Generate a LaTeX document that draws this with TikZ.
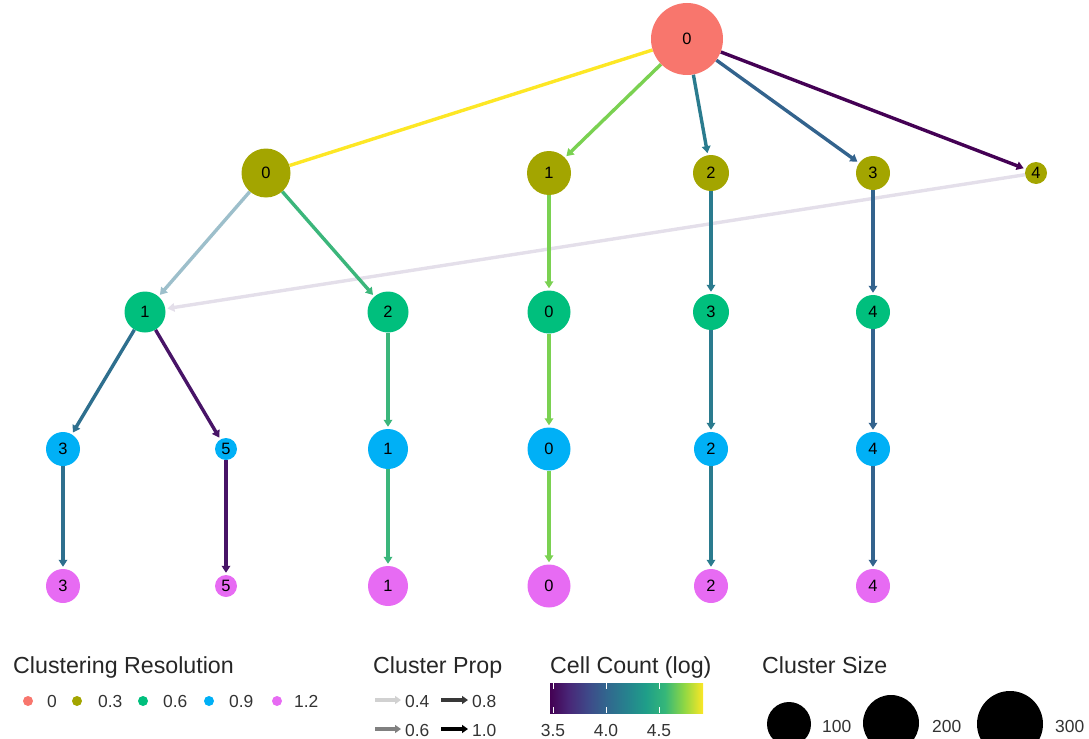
\documentclass[tikz,border=0pt]{standalone}
\usepackage{fontspec}
\setmainfont{Liberation Sans}
\usetikzlibrary{arrows.meta,backgrounds}
\definecolor{cR0}{HTML}{F8766D}
\definecolor{cR3}{HTML}{A3A500}
\definecolor{cR6}{HTML}{00BF7D}
\definecolor{cR9}{HTML}{00B0F6}
\definecolor{cR12}{HTML}{E76BF3}
\definecolor{eYel}{HTML}{FDE725}
\definecolor{eLgr}{HTML}{7AD151}
\definecolor{eGrn}{HTML}{3BB67B}
\definecolor{eTea}{HTML}{2A7B8E}
\definecolor{eTeb}{HTML}{2E6F8E}
\definecolor{eBlu}{HTML}{33638D}
\definecolor{ePur}{HTML}{440154}
\definecolor{ePub}{HTML}{481467}
\definecolor{eFad}{HTML}{9DBFCB}
\definecolor{eLav}{HTML}{E4DFEA}
\definecolor{v0}{HTML}{440154}
\definecolor{v1}{HTML}{482878}
\definecolor{v2}{HTML}{3E4A89}
\definecolor{v3}{HTML}{31688E}
\definecolor{v4}{HTML}{26828E}
\definecolor{v5}{HTML}{1F9E89}
\definecolor{v6}{HTML}{35B779}
\definecolor{v7}{HTML}{8FD744}
\definecolor{v8}{HTML}{FDE725}
\pgfdeclarehorizontalshading{viridisH}{100bp}{color(0bp)=(v0); color(25bp)=(v0); color(31.25bp)=(v1); color(37.5bp)=(v2); color(43.75bp)=(v3); color(50bp)=(v4); color(56.25bp)=(v5); color(62.5bp)=(v6); color(68.75bp)=(v7); color(75bp)=(v8); color(100bp)=(v8)}
\tikzset{
  clnode/.style={circle, inner sep=0pt, minimum size=#1, font=\fontsize{16.5}{18}\selectfont, text=black},
  r0/.style={clnode=#1, fill=cR0},
  r3/.style={clnode=#1, fill=cR3},
  r6/.style={clnode=#1, fill=cR6},
  r9/.style={clnode=#1, fill=cR9},
  r12/.style={clnode=#1, fill=cR12},
  edge/.style={draw=#1, line width=3.4bp, -{Triangle[length=7bp,width=8.5bp]}, shorten >=2bp},
  plainedge/.style={draw=#1, line width=3.4bp},
  legtitle/.style={anchor=base west, inner sep=0pt, font=\fontsize{23.3}{25}\selectfont, text=black!85},
  leglab/.style={anchor=base west, inner sep=0pt, font=\fontsize{17.5}{19}\selectfont, text=black!80},
  legdot/.style={circle, inner sep=0pt, minimum size=10bp},
  propar/.style={draw=#1, line width=3.4bp, -{Triangle[length=6bp,width=8bp]}},
  szdot/.style={circle, inner sep=0pt, fill=black, minimum size=#1},
}
\begin{document}
\begin{tikzpicture}[x=1bp,y=-1bp]
\useasboundingbox (0,0) rectangle (1089,739);
\clip (0,0) rectangle (1089,739);
% nodes: resolution 0
\node[r0=72bp] (a0) at (687,39) {0};
% resolution 0.3
\node[r3=49bp] (b0) at (266,173) {0};
\node[r3=44bp] (b1) at (549,173) {1};
\node[r3=36bp] (b2) at (711,173) {2};
\node[r3=34bp] (b3) at (873,173) {3};
\node[r3=22bp] (b4) at (1036,173) {4};
% resolution 0.6
\node[r6=41bp] (c1) at (145,312) {1};
\node[r6=41bp] (c2) at (388,312) {2};
\node[r6=43bp] (c0) at (549,312) {0};
\node[r6=36bp] (c3) at (711,312) {3};
\node[r6=34bp] (c4) at (873,312) {4};
% resolution 0.9
\node[r9=34bp] (d3) at (63,449) {3};
\node[r9=22bp] (d5) at (226,449) {5};
\node[r9=40bp] (d1) at (388,449) {1};
\node[r9=43bp] (d0) at (549,449) {0};
\node[r9=34bp] (d2) at (711,449) {2};
\node[r9=34bp] (d4) at (873,449) {4};
% resolution 1.2
\node[r12=34bp] (e3) at (63,586) {3};
\node[r12=22bp] (e5) at (226,586) {5};
\node[r12=40bp] (e1) at (388,586) {1};
\node[r12=43bp] (e0) at (549,586) {0};
\node[r12=34bp] (e2) at (711,586) {2};
\node[r12=34bp] (e4) at (873,586) {4};
\begin{scope}[on background layer]
\draw[edge=eLav] (b4) -- (c1);
\draw[plainedge=eYel] (a0) -- (b0);
\draw[edge=eLgr] (a0) -- (b1);
\draw[edge=eTea] (a0) -- (b2);
\draw[edge=eBlu] (a0) -- (b3);
\draw[edge=ePur] (a0) -- (b4);
\draw[edge=eFad] (b0) -- (c1);
\draw[edge=eGrn] (b0) -- (c2);
\draw[edge=eLgr] (b1) -- (c0);
\draw[edge=eTea] (b2) -- (c3);
\draw[edge=eBlu] (b3) -- (c4);
\draw[edge=eTeb] (c1) -- (d3);
\draw[edge=ePub] (c1) -- (d5);
\draw[edge=eGrn] (c2) -- (d1);
\draw[edge=eLgr] (c0) -- (d0);
\draw[edge=eTea] (c3) -- (d2);
\draw[edge=eBlu] (c4) -- (d4);
\draw[edge=eTeb] (d3) -- (e3);
\draw[edge=ePub] (d5) -- (e5);
\draw[edge=eGrn] (d1) -- (e1);
\draw[edge=eLgr] (d0) -- (e0);
\draw[edge=eTea] (d2) -- (e2);
\draw[edge=eBlu] (d4) -- (e4);
\end{scope}
% legend: clustering resolution
\node[legtitle] (t1) at (13,673) {Clustering Resolution};
\node[legdot, fill=cR0] (l0) at (28,701) {};
\node[leglab] (l0t) at (47,707) {0};
\node[legdot, fill=cR3] (l3) at (77,701) {};
\node[leglab] (l3t) at (98,707) {0.3};
\node[legdot, fill=cR6] (l6) at (143,701) {};
\node[leglab] (l6t) at (163,707) {0.6};
\node[legdot, fill=cR9] (l9) at (209,701) {};
\node[leglab] (l9t) at (229,707) {0.9};
\node[legdot, fill=cR12] (l12) at (277,701) {};
\node[leglab] (l12t) at (294,707) {1.2};
% legend: cluster prop
\node[legtitle] (t2) at (373,673) {Cluster Prop};
\coordinate (p4a) at (375,700); \coordinate (p4b) at (401,700);
\coordinate (p8a) at (441,700); \coordinate (p8b) at (468,700);
\coordinate (p6a) at (375,729); \coordinate (p6b) at (401,729);
\coordinate (p10a) at (441,729); \coordinate (p10b) at (468,729);
\draw[propar=black!18] (p4a) -- (p4b);
\draw[propar=black!78] (p8a) -- (p8b);
\draw[propar=black!50] (p6a) -- (p6b);
\draw[propar=black] (p10a) -- (p10b);
\node[leglab] (p4t) at (405,707) {0.4};
\node[leglab] (p8t) at (472,707) {0.8};
\node[leglab] (p6t) at (405,736) {0.6};
\node[leglab] (p10t) at (472,736) {1.0};
% legend: cell count
\node[legtitle] (t3) at (550,673) {Cell Count (log)};
\node[draw=none, inner sep=0pt, minimum width=153bp, minimum height=30bp, anchor=north west, shading=viridisH] (cbar) at (550,683) {};
\foreach \xx in {553,606,659}{
  \draw[white, line width=0.8bp] (\xx,683) -- (\xx,689);
  \draw[white, line width=0.8bp] (\xx,707) -- (\xx,713);
}
\node[leglab, anchor=base] (k1) at (553,736) {3.5};
\node[leglab, anchor=base] (k2) at (606,736) {4.0};
\node[leglab, anchor=base] (k3) at (659,736) {4.5};
% legend: cluster size
\node[legtitle] (t4) at (762,673) {Cluster Size};
\node[szdot=44bp] (s1) at (789,724) {};
\node[leglab] (s1t) at (822,732) {100};
\node[szdot=56bp] (s2) at (891,723) {};
\node[leglab] (s2t) at (932,732) {200};
\node[szdot=66bp] (s3) at (1010,724) {};
\node[leglab] (s3t) at (1055,732) {300};
\end{tikzpicture}
\end{document}
